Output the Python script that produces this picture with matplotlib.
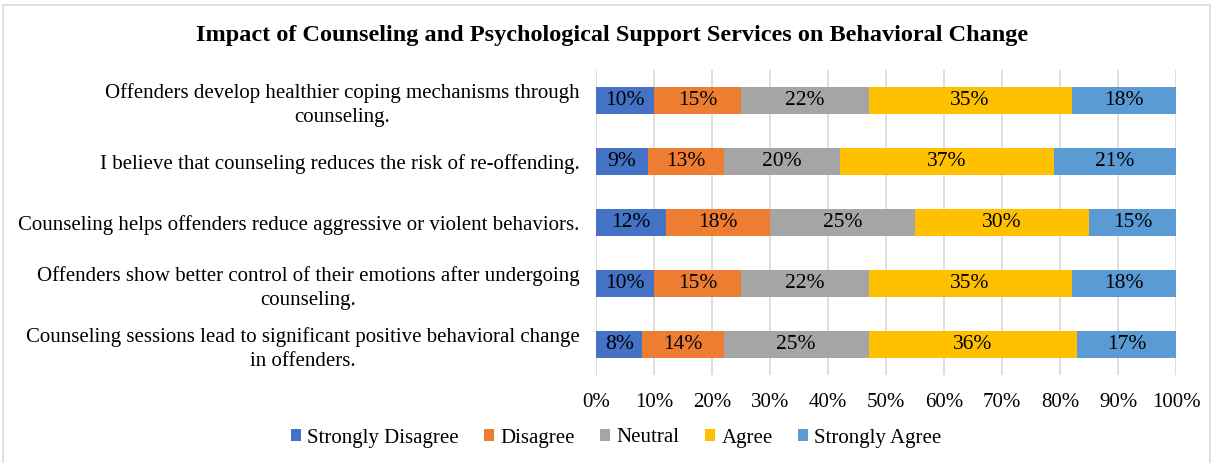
import numpy as np
import matplotlib.pyplot as plt
from matplotlib.patches import Rectangle

statements = [
    "Offenders develop healthier coping mechanisms through\ncounseling.",
    "I believe that counseling reduces the risk of re-offending.",
    "Counseling helps offenders reduce aggressive or violent behaviors.",
    "Offenders show better control of their emotions after undergoing\ncounseling.",
    "Counseling sessions lead to significant positive behavioral change\nin offenders.",
]
responses = ["Strongly Disagree", "Disagree", "Neutral", "Agree", "Strongly Agree"]
strongly_disagree = [10, 9, 12, 10, 8]
disagree = [15, 13, 18, 15, 14]
neutral = [22, 20, 25, 22, 25]
agree = [35, 37, 30, 35, 36]
strongly_agree = [18, 21, 15, 18, 17]
colors = ["#4472C4", "#ED7D31", "#A5A5A5", "#FFC000", "#5B9BD5"]

plt.rcParams['font.family'] = ['Liberation Serif', 'DejaVu Serif']

fig = plt.figure(figsize=(12.14, 4.63), dpi=100)
# outer chart frame
fig.patches.append(Rectangle((3/1214, -0.05), 1207/1214, 1.05 - 5/463, transform=fig.transFigure,
                             fill=False, edgecolor='#D9D9D9', lw=1.2))
ax = fig.add_axes([596/1214, 1 - 375/463, 580/1214, 305/463])

series = [strongly_disagree, disagree, neutral, agree, strongly_agree]
y = np.arange(len(statements))
left = np.zeros(len(statements))
for name, vals, c in zip(responses, series, colors):
    vals = np.array(vals, dtype=float)
    ax.barh(y, vals, left=left, height=0.43, color=c, label=name, zorder=3)
    for yi, l, v in zip(y, left, vals):
        ax.text(l + v / 2, yi, f"{int(v)}%", ha='center', va='center', fontsize=15.5, zorder=4)
    left += vals

ax.set_xlim(0, 100)
ax.set_ylim(len(statements) - 0.5, -0.5)
ax.set_xticks(np.arange(0, 101, 10))
ax.set_xticklabels([f"{t}%" for t in range(0, 101, 10)], fontsize=15)
ax.set_yticks(y)
ax.set_yticklabels(statements, fontsize=15, multialignment='center', linespacing=1.3)
ax.tick_params(length=0, pad=12)
ax.tick_params(axis='x', pad=13)
ax.grid(axis='x', color='#D9D9D9', lw=1.2, zorder=0)
for s in ax.spines.values():
    s.set_visible(False)

fig.text(612/1214, 1 - 35/463, "Impact of Counseling and Psychological Support Services on Behavioral Change",
         ha='center', va='center', fontsize=17.5, fontweight='bold')
fig.legend(loc='center', bbox_to_anchor=(616/1214, 1 - 438/463), ncol=5, frameon=False,
           fontsize=15, handlelength=0.5, handleheight=0.5, handletextpad=0.3, columnspacing=1.2)

fig.savefig("out.png", dpi=100)
